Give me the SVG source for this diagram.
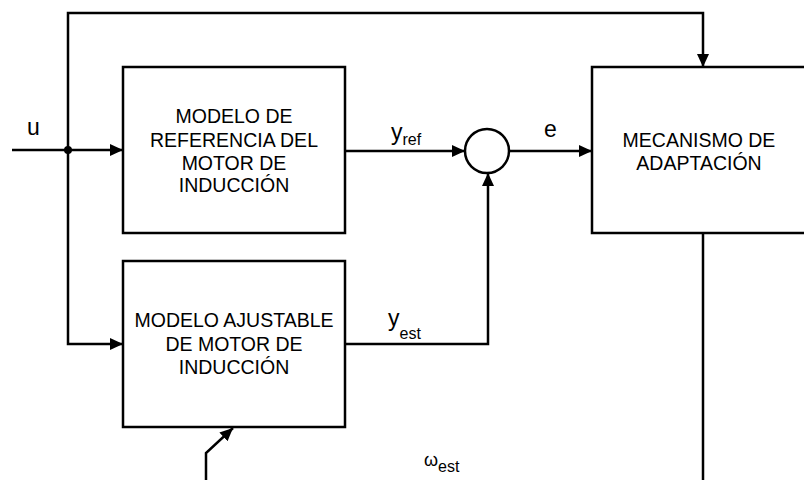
<svg xmlns="http://www.w3.org/2000/svg" width="804" height="480" viewBox="0 0 804 480">
<defs>
<marker id="ah" markerUnits="userSpaceOnUse" markerWidth="14" markerHeight="12" refX="13" refY="6" orient="auto">
<path d="M0,0 L13,6 L0,12 z" fill="#000"/>
</marker>
<style>
.box{fill:#fff;stroke:#000;stroke-width:2.5}
.ln{fill:none;stroke:#000;stroke-width:2.5}
.ar{fill:none;stroke:#000;stroke-width:2.5;marker-end:url(#ah)}
.t{font-family:"Liberation Sans",Arial,sans-serif;font-size:19.5px;fill:#000;text-anchor:middle}
.lb{font-family:"Liberation Sans",Arial,sans-serif;font-size:23px;fill:#000}
.sb{font-family:"Liberation Sans",Arial,sans-serif;font-size:16px;fill:#000}
</style>
</defs>
<rect width="804" height="480" fill="#fff"/>
<g id="connectors">
<path class="ln" d="M12,150 L68,150"/>
<path class="ar" d="M68,150 L123,150"/>
<path class="ar" d="M68,150 L68,13 L703,13 L703,67"/>
<path class="ar" d="M68,150 L68,344 L123,344"/>
<path class="ar" d="M345,151 L465,151"/>
<path class="ar" d="M509,151 L592,151"/>
<path class="ar" d="M345,344 L488,344 L488,173"/>
<path class="ln" d="M703,233 L703,480"/>
<path class="ar" d="M206,480 L206,453 L233,428"/>
<circle cx="68" cy="150" r="4" fill="#000"/>
</g>
<g id="ref_model">
<rect class="box" x="123" y="67" width="222" height="166"/>
<text class="t" x="234" y="123">MODELO DE</text>
<text class="t" x="234" y="147">REFERENCIA DEL</text>
<text class="t" x="234" y="170">MOTOR DE</text>
<text class="t" x="234" y="192">INDUCCIÓN</text>
</g>
<g id="adj_model">
<rect class="box" x="123" y="261" width="222" height="166"/>
<text class="t" x="234" y="327">MODELO AJUSTABLE</text>
<text class="t" x="234" y="351">DE MOTOR DE</text>
<text class="t" x="234" y="374">INDUCCIÓN</text>
</g>
<g id="adaptation">
<rect class="box" x="592" y="67" width="230" height="166"/>
<text class="t" x="699" y="147">MECANISMO DE</text>
<text class="t" x="699" y="170">ADAPTACIÓN</text>
</g>
<g id="sum">
<circle cx="487" cy="151" r="22" fill="#fff" stroke="#000" stroke-width="2.5"/>
</g>
<g id="labels">
<text class="lb" x="27" y="135">u</text>
<text class="lb" x="391" y="140">y<tspan class="sb" dy="5">ref</tspan></text>
<text class="lb" x="544" y="137">e</text>
<text class="lb" x="388" y="326">y<tspan class="sb" dy="13">est</tspan></text>
<text class="lb" x="424" y="466" style="font-size:18px">ω<tspan class="sb" dy="6">est</tspan></text>
</g>
</svg>
